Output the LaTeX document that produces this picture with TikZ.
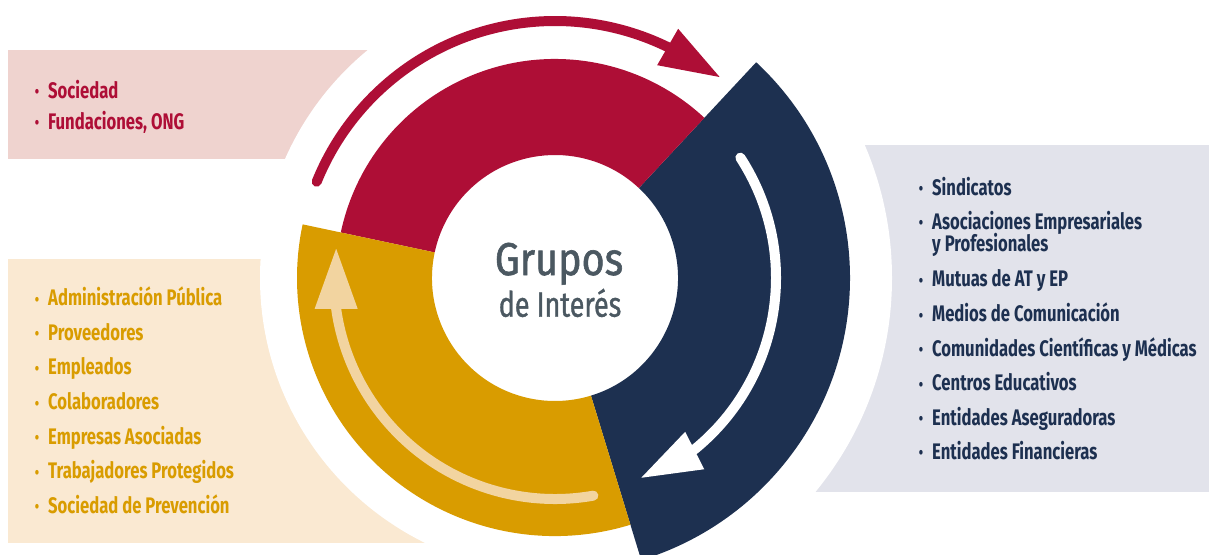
\documentclass[tikz,border=0pt]{standalone}
\usepackage{fontspec}
\usetikzlibrary{calc}
\newfontfamily\listfont{Fira Sans}[FakeStretch=0.74]
\newfontfamily\centerfont{Fira Sans}[FakeStretch=0.86,FakeBold=1.2]
\newfontfamily\centerfontb{Fira Sans}[FakeStretch=0.77,FakeBold=1.0]
\definecolor{cred}{HTML}{AE0E36}
\definecolor{cnavy}{HTML}{1D3050}
\definecolor{cgold}{HTML}{D99C00}
\definecolor{cgoldlt}{HTML}{F2D4A0}
\definecolor{bgpink}{HTML}{EFD3CF}
\definecolor{bgbeige}{HTML}{FAE9D2}
\definecolor{bggray}{HTML}{E2E3EB}
\definecolor{ctext}{HTML}{4B5861}
\newcommand{\bul}{\llap{\raisebox{0.5pt}{\scalebox{0.75}{\textbullet}}\hspace{9pt}}}
\begin{document}
\begin{tikzpicture}[x=1pt,y=1pt,
  item/.style={anchor=base west, inner sep=0pt, font=\listfont\bfseries\fontsize{22.5}{22.5}\selectfont},
  ctr/.style={anchor=base, inner sep=0pt, text=ctext}]
\useasboundingbox (0,0) rectangle (1209,-554);
\fill[white] (0,0) rectangle (1209,-554);
\coordinate (C) at (555,-278);
% backgrounds
\fill[bggray] (790,-145) rectangle (1209,-492);
\fill[white] (C) circle (337pt);
\fill[bgpink] (8,-50) rectangle (420,-159);
\fill[bgbeige] (8,-259) rectangle (460,-543);
\fill[white] (C) circle (295pt);
% ring sectors
\fill[cnavy] ($(C)+(-73:123pt)$) arc[start angle=-73,end angle=47,radius=123pt]
  -- ($(C)+(47:295pt)$) arc[start angle=47,end angle=-73,radius=295pt] -- cycle;
\fill[cred] ($(C)+(47:123pt)$) arc[start angle=47,end angle=168,radius=123pt]
  -- ($(C)+(168:219pt)$) arc[start angle=168,end angle=47,radius=219pt] -- cycle;
\fill[cgold] ($(C)+(168:123pt)$) arc[start angle=168,end angle=287,radius=123pt]
  -- ($(C)+(287:258pt)$) arc[start angle=287,end angle=168,radius=258pt] -- cycle;
% red arrow
\draw[cred, line width=10pt, line cap=round] ($(C)+(158:257pt)$) arc[start angle=158,end angle=64,radius=257pt];
\coordinate (rb) at ($(C)+(64:257pt)$);
\fill[cred] ($(rb)+(60:21pt)$) -- ($(rb)+(-30:60pt)$) -- ($(rb)+(240:21pt)$) -- cycle;
% white arrow
\draw[white, line width=10pt, line cap=round] ($(C)+(33:221pt)$) arc[start angle=33,end angle=-51,radius=221pt];
\coordinate (wb) at ($(C)+(-51:222pt)$);
\fill[white] ($(wb)+(-63:21pt)$) -- ($(wb)+(-153:60pt)$) -- ($(wb)+(117:21pt)$) -- cycle;
% gold arrow
\draw[cgoldlt, line width=10pt, line cap=round] ($(C)+(280:221pt)$) arc[start angle=280,end angle=188,radius=221pt];
\coordinate (gb) at ($(C)+(188:221pt)$);
\fill[cgoldlt] ($(gb)+(180:21.5pt)$) -- ($(gb)+(90:60pt)$) -- ($(gb)+(0:21.5pt)$) -- cycle;
% centre text
\node[ctr, font=\centerfont\fontsize{46}{46}\selectfont] (g1) at (559,-275) {Grupos};
\node[ctr, font=\centerfontb\fontsize{35}{35}\selectfont] (g2) at (560,-316.7) {de Interés};
% pink list
\node[item, text=cred] (p1) at (48,-98.3) {\bul Sociedad};
\node[item, text=cred] (p2) at (48,-129.3) {\bul Fundaciones, ONG};
% beige list
\node[item, text=cgold] (b1) at (48,-305.5) {\bul Administración Pública};
\node[item, text=cgold] (b2) at (48,-340.2) {\bul Proveedores};
\node[item, text=cgold] (b3) at (48,-374.8) {\bul Empleados};
\node[item, text=cgold] (b4) at (48,-409.5) {\bul Colaboradores};
\node[item, text=cgold] (b5) at (48,-444.1) {\bul Empresas Asociadas};
\node[item, text=cgold] (b6) at (48,-478.8) {\bul Trabajadores Protegidos};
\node[item, text=cgold] (b7) at (48,-513.4) {\bul Sociedad de Prevención};
% gray list
\node[item, text=cnavy] (r1) at (932,-195) {\bul Sindicatos};
\node[item, text=cnavy] (r2) at (932,-229.3) {\bul Asociaciones Empresariales};
\node[item, text=cnavy] (r2b) at (932,-251.7) {y Profesionales};
\node[item, text=cnavy] (r3) at (932,-286.7) {\bul Mutuas de AT y EP};
\node[item, text=cnavy] (r4) at (932,-321.7) {\bul Medios de Comunicación};
\node[item, text=cnavy] (r5) at (932,-356) {\bul Comunidades Científicas y Médicas};
\node[item, text=cnavy] (r6) at (932,-390.7) {\bul Centros Educativos};
\node[item, text=cnavy] (r7) at (932,-425) {\bul Entidades Aseguradoras};
\node[item, text=cnavy] (r8) at (932,-459.3) {\bul Entidades Financieras};
\end{tikzpicture}
\end{document}
